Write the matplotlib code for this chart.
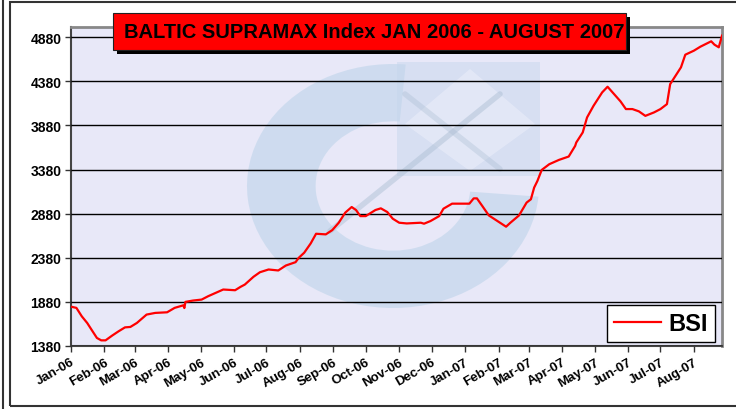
import pandas as pd
import matplotlib.pyplot as plt
import matplotlib.dates as mdates
from matplotlib.patches import Rectangle, Wedge, Polygon
from matplotlib.transforms import Affine2D

plt.rcParams['font.family'] = ['Liberation Sans', 'DejaVu Sans']

# BSI values
dates = ['2006-01-02', '2006-01-06', '2006-01-11', '2006-01-16', '2006-01-20', '2006-01-25',
         '2006-01-29', '2006-02-02', '2006-02-08', '2006-02-14', '2006-02-20', '2006-02-25',
         '2006-03-03', '2006-03-12', '2006-03-20', '2006-03-31', '2006-04-07', '2006-04-15',
         '2006-04-16', '2006-04-17', '2006-04-24', '2006-05-02', '2006-05-08', '2006-05-15',
         '2006-05-22', '2006-06-02', '2006-06-07', '2006-06-11', '2006-06-19', '2006-06-25',
         '2006-07-03', '2006-07-12', '2006-07-19', '2006-07-28', '2006-07-31', '2006-08-05',
         '2006-08-11', '2006-08-16', '2006-08-25', '2006-08-31', '2006-09-06', '2006-09-12',
         '2006-09-18', '2006-09-22', '2006-09-26', '2006-10-01', '2006-10-05', '2006-10-10',
         '2006-10-15', '2006-10-21', '2006-10-26', '2006-11-01', '2006-11-08', '2006-11-21',
         '2006-11-24', '2006-11-30', '2006-12-08', '2006-12-12', '2006-12-20', '2007-01-05',
         '2007-01-09', '2007-01-12', '2007-01-17', '2007-01-23', '2007-01-31', '2007-02-08',
         '2007-02-12', '2007-02-20', '2007-02-27', '2007-03-03', '2007-03-06', '2007-03-09',
         '2007-03-13', '2007-03-20', '2007-03-29', '2007-04-07', '2007-04-13', '2007-04-14',
         '2007-04-20', '2007-04-24', '2007-04-30', '2007-05-08', '2007-05-13', '2007-05-19',
         '2007-05-25', '2007-05-30', '2007-06-05', '2007-06-11', '2007-06-17', '2007-06-25',
         '2007-07-01', '2007-07-07', '2007-07-10', '2007-07-15', '2007-07-20', '2007-07-24',
         '2007-08-01', '2007-08-07', '2007-08-17', '2007-08-20', '2007-08-24', '2007-08-27']
bsi = [1823, 1812, 1716, 1641, 1565, 1471,
       1444, 1444, 1497, 1546, 1591, 1596,
       1641, 1736, 1755, 1762, 1812, 1841,
       1810, 1880, 1895, 1906, 1944, 1982,
       2020, 2012, 2050, 2076, 2164, 2216,
       2247, 2236, 2292, 2330, 2380, 2437,
       2542, 2652, 2645, 2693, 2777, 2891,
       2955, 2921, 2852, 2852, 2883, 2921,
       2940, 2898, 2823, 2777, 2769, 2777,
       2766, 2796, 2852, 2936, 2993, 2993,
       3053, 3053, 2966, 2860, 2796, 2732,
       2777, 2860, 3005, 3043, 3175, 3250,
       3375, 3440, 3489, 3527, 3648, 3686,
       3800, 3970, 4102, 4254, 4318, 4235,
       4152, 4065, 4065, 4039, 3988, 4027,
       4065, 4121, 4348, 4443, 4538, 4681,
       4727, 4772, 4833, 4795, 4765, 4897]
y_ticks = [1380, 1880, 2380, 2880, 3380, 3880, 4380, 4880]
month_ticks = pd.date_range('2006-01-01', '2007-08-01', freq='MS')

df = pd.DataFrame({'date': pd.to_datetime(dates), 'bsi': bsi})

W, H = 736, 410
fig = plt.figure(figsize=(W / 100, H / 100), dpi=100)
ax = fig.add_axes([71 / W, 1 - 347 / H, (722 - 71) / W, (347 - 28) / H])
ax.set_facecolor('#E8E8F8')

# pixel coords (y up) -> figure
px = Affine2D().scale(1 / W, 1 / H) + fig.transFigure

# faded logo watermark
ring = Wedge((0, 0), 1, 85, 355, width=0.47, facecolor='#B9D2E8', edgecolor='none', alpha=0.55,
             transform=Affine2D().scale(146, 122).translate(393, H - 187) + px, zorder=0)
ax.add_patch(ring)
box = Rectangle((397, H - 177), 143, 114, facecolor='#C4D6EC', edgecolor='none', alpha=0.45,
                transform=px, zorder=0)
ax.add_patch(box)
diamond = Polygon([(470, H - 70), (535, H - 125), (470, H - 172), (405, H - 125)], closed=True,
                  facecolor='#E6EAF8', edgecolor='none', alpha=0.8, transform=px, zorder=0)
ax.add_patch(diamond)
ax.plot([330, 500], [H - 232, H - 95], color='#A9BCD2', lw=4, alpha=0.45,
        transform=px, zorder=0, solid_capstyle='round')
ax.plot([405, 500], [H - 95, H - 170], color='#A9BCD2', lw=4, alpha=0.35,
        transform=px, zorder=0, solid_capstyle='round')

ax.plot(df['date'], df['bsi'], color='red', lw=1.6, label='BSI', zorder=3)

ax.set_ylim(1380, 4995)
ax.set_xlim(pd.Timestamp('2006-01-01'), pd.Timestamp('2007-08-27'))
ax.set_yticks(y_ticks)
ax.set_yticklabels([str(v) for v in y_ticks], fontsize=10, fontweight='bold')
ax.set_xticks(month_ticks)
ax.xaxis.set_major_formatter(mdates.DateFormatter('%b-%y'))
for lab in ax.get_xticklabels():
    lab.set_rotation(30)
    lab.set_ha('right')
    lab.set_rotation_mode('anchor')
    lab.set_fontsize(9.5)
    lab.set_fontweight('bold')
ax.tick_params(axis='both', direction='out', length=4, width=1, color='#333333', pad=3)
ax.yaxis.grid(True, color='black', lw=1)
ax.set_axisbelow(False)
for g in ax.get_ygridlines():
    g.set_zorder(1)

for s in ['left', 'bottom']:
    ax.spines[s].set_color('#444444')
    ax.spines[s].set_linewidth(1.5)
for s in ['top', 'right']:
    ax.spines[s].set_color('#888888')
    ax.spines[s].set_linewidth(2)

leg = ax.legend(loc='lower right', bbox_to_anchor=(715 / W, 1 - 343 / H), bbox_transform=fig.transFigure,
                borderaxespad=0, fancybox=False, edgecolor='black', framealpha=1,
                prop={'weight': 'bold', 'size': 17}, handlelength=2.0, handletextpad=0.3,
                borderpad=0.3)
leg.get_frame().set_linewidth(1)

# title box with shadow
fig.patches.append(Rectangle((117, H - 55), 513, 37, facecolor='black', edgecolor='none', transform=px))
fig.patches.append(Rectangle((113, H - 51), 513, 37, facecolor='red', edgecolor='#222222', lw=0.8, transform=px))
fig.text(374 / W, 1 - 32 / H, 'BALTIC SUPRAMAX Index JAN 2006 - AUGUST 2007', fontsize=14.5,
         fontweight='bold', ha='center', va='center')

# outer chart frame
fig.patches.append(Rectangle((10, H - 407), 740, 404, facecolor='none', edgecolor='#333333', lw=1.5, transform=px))
fig.lines.append(plt.Line2D([3, 3], [0, H], color='#333333', lw=1.5, transform=px))

plt.savefig('out.png', dpi=100)
